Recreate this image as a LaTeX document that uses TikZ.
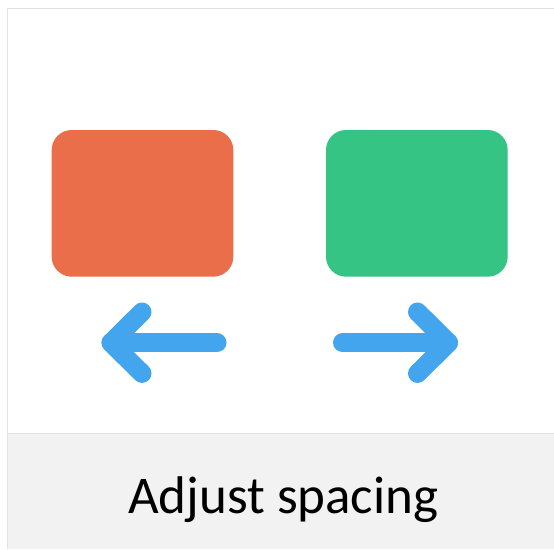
\documentclass[tikz,border=0pt]{standalone}
\usepackage{fontspec}
\setmainfont{Carlito}
\definecolor{orangebox}{HTML}{EA6E49}
\definecolor{greenbox}{HTML}{35C483}
\definecolor{arrowblue}{HTML}{42A5EE}
\definecolor{framegray}{HTML}{E2E2E2}
\definecolor{bandgray}{HTML}{F2F2F2}
\begin{document}
\begin{tikzpicture}[x=1pt,y=-1pt,
  box/.style={rounded corners=20pt},
  arr/.style={draw=arrowblue,line width=19pt,line cap=round,line join=round}]
\useasboundingbox (0,0) rectangle (554,549);
\fill[white] (0,0) rectangle (554,549);
% gray caption band
\fill[bandgray] (7.5,433.5) rectangle (554,549);
\draw[framegray,line width=1.5pt] (7.5,433.5) -- (554,433.5);
% frame
\draw[framegray,line width=1.5pt] (7.5,549) -- (7.5,8.5) -- (554,8.5);
% boxes
\fill[orangebox,box] (51.7,130) rectangle (233.3,276.7);
\fill[greenbox,box] (326,130) rectangle (507.7,276.7);
% arrows
\coordinate (lt) at (111,342.7);
\coordinate (ls) at (217,342.7);
\coordinate (lu) at (142,312);
\coordinate (ld) at (142,373.4);
\draw[arr] (ls) -- (lt);
\draw[arr] (lu) -- (lt) -- (ld);
\coordinate (rt) at (448.5,342.7);
\coordinate (rs) at (342.5,342.7);
\coordinate (ru) at (417.5,312);
\coordinate (rd) at (417.5,373.4);
\draw[arr] (rs) -- (rt);
\draw[arr] (ru) -- (rt) -- (rd);
% caption
\node[anchor=base,inner sep=0pt,font=\fontsize{53pt}{60pt}\selectfont] (cap) at (283.3,513.3) {Adjust spacing};
\end{tikzpicture}
\end{document}
